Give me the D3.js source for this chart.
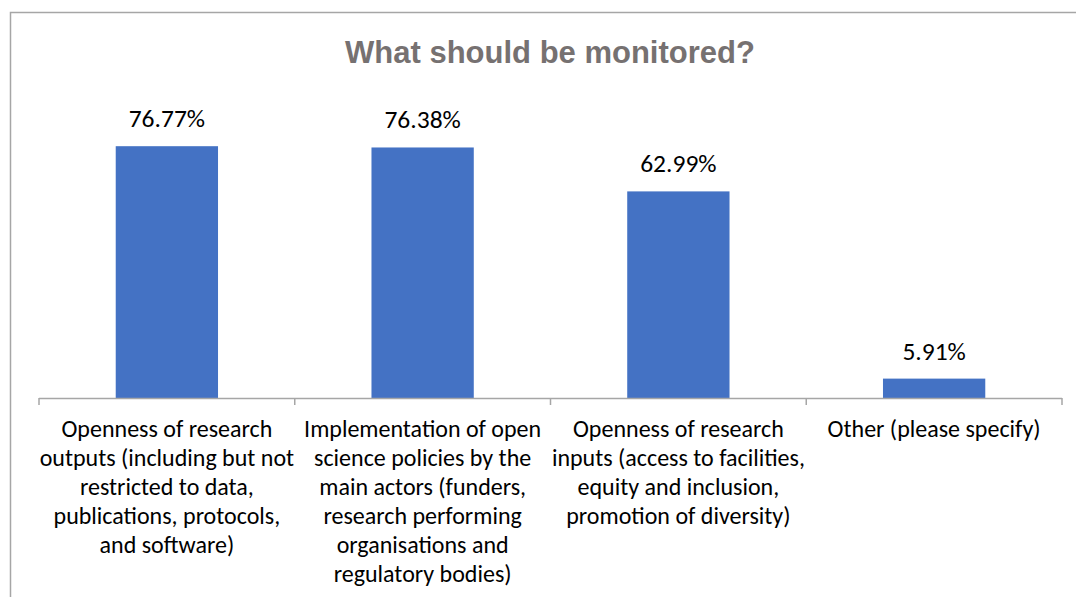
<!DOCTYPE html>
<html>
<head>
<meta charset="utf-8">
<script src="https://cdn.jsdelivr.net/npm/d3@7"></script>
<style>
  body { margin: 0; background: #fff; }
  svg text { font-family: Carlito, Calibri, Lato, sans-serif; }
</style>
</head>
<body>
<svg id="chart" width="1076" height="597"></svg>
<script>
// categories, as Excel wrapped them
let categories = [
  "Openness of research outputs",
  "Implementation of open science policies",
  "Openness of research inputs",
  "Other (please specify)"
];
let labelLines = [
  ["Openness of research", "outputs (including but not", "restricted to data,", "publications, protocols,", "and software)"],
  ["Implementation of open", "science policies by the", "main actors (funders,", "research performing", "organisations and", "regulatory bodies)"],
  ["Openness of research", "inputs (access to facilities,", "equity and inclusion,", "promotion of diversity)"],
  ["Other (please specify)"]
];
let values = [76.77, 76.38, 62.99, 5.91];

let svg = d3.select("#chart");

// chart frame (right and bottom edges fall outside the picture)
svg.append("rect")
  .attr("x", 10.5).attr("y", 12.5)
  .attr("width", 1100).attr("height", 700)
  .attr("fill", "none")
  .attr("stroke", "#a6a6a6")
  .attr("stroke-width", 1.5);

svg.append("text")
  .attr("x", 550).attr("y", 63)
  .attr("text-anchor", "middle")
  .style("font-family", "'Liberation Sans', Arial, sans-serif")
  .style("font-weight", "bold")
  .style("font-size", "31px")
  .attr("fill", "#767171")
  .text("What should be monitored?");

let x = d3.scaleBand()
  .domain(categories)
  .range([39, 1062])
  .paddingInner(0.6)
  .paddingOuter(0.3);

let y = d3.scaleLinear()
  .domain([0, 90])
  .range([398, 398 - 90 * 3.28]);

let data = categories.map(function (c, i) {
  return { cat: c, value: values[i], lines: labelLines[i] };
});

svg.append("g")
  .selectAll("rect")
  .data(data)
  .join("rect")
  .attr("x", function (d) { return x(d.cat); })
  .attr("y", function (d) { return y(d.value); })
  .attr("width", x.bandwidth())
  .attr("height", function (d) { return y(0) - y(d.value); })
  .attr("fill", "#4472c4");

// value labels
svg.append("g")
  .selectAll("text")
  .data(data)
  .join("text")
  .attr("x", function (d) { return x(d.cat) + x.bandwidth() / 2; })
  .attr("y", function (d) { return y(d.value) - 19; })
  .attr("text-anchor", "middle")
  .style("font-size", "25.5px")
  .attr("fill", "#000")
  .text(function (d) { return d.value.toFixed(2) + "%"; });

// axis line and ticks between categories
let step = x.step();
let edge0 = x(categories[0]) - (step - x.bandwidth()) / 2;
let axis = svg.append("g").attr("stroke", "#a6a6a6").attr("stroke-width", 1.5);
axis.append("line")
  .attr("x1", edge0).attr("x2", edge0 + step * categories.length)
  .attr("y1", y(0) + 0.5).attr("y2", y(0) + 0.5);
axis.selectAll("line.tick")
  .data(d3.range(categories.length + 1))
  .join("line")
  .attr("class", "tick")
  .attr("x1", function (i) { return edge0 + i * step; })
  .attr("x2", function (i) { return edge0 + i * step; })
  .attr("y1", y(0)).attr("y2", y(0) + 7);

// wrapped category labels
let lab = svg.append("g")
  .selectAll("text")
  .data(data)
  .join("text")
  .attr("text-anchor", "middle")
  .style("font-size", "24px")
  .attr("fill", "#000");
lab.selectAll("tspan")
  .data(function (d) { return d.lines.map(function (l) { return { l: l, cx: x(d.cat) + x.bandwidth() / 2 }; }); })
  .join("tspan")
  .attr("x", function (t) { return t.cx; })
  .attr("y", function (t, i) { return 437 + i * 29; })
  .text(function (t) { return t.l; });
</script>
</body>
</html>
